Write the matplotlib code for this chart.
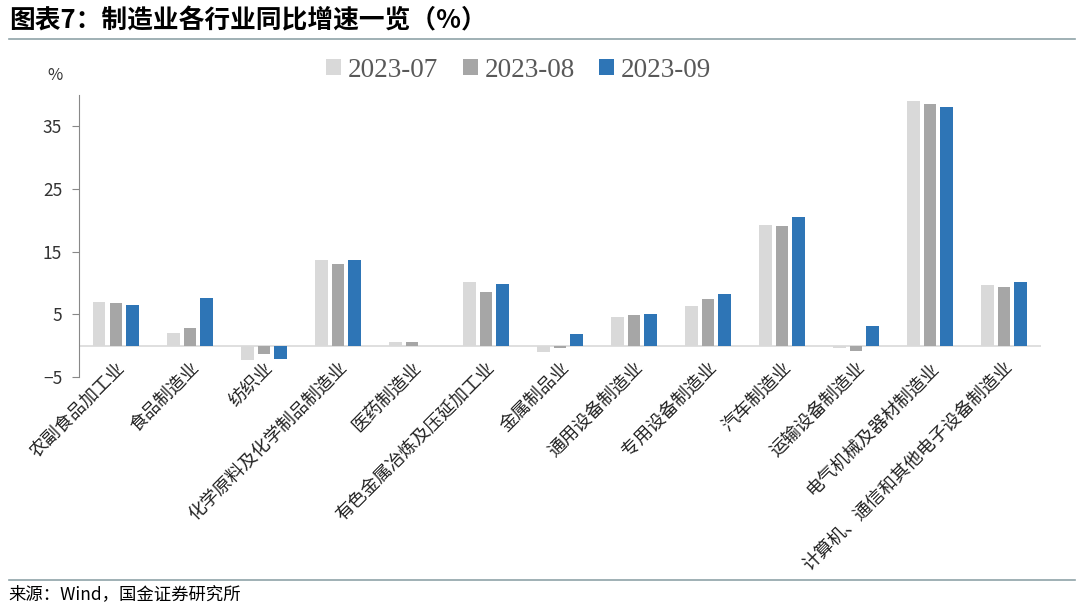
import matplotlib
matplotlib.use("Agg")
import matplotlib.pyplot as plt
import numpy as np

plt.rcParams['font.family'] = ['Noto Sans CJK SC', 'DejaVu Sans']

categories = ["农副食品加工业", "食品制造业", "纺织业", "化学原料及化学制品制造业",
              "医药制造业", "有色金属冶炼及压延加工业", "金属制品业", "通用设备制造业",
              "专用设备制造业", "汽车制造业", "运输设备制造业", "电气机械及器材制造业",
              "计算机、通信和其他电子设备制造业"]
jul = [7.0, 2.0, -2.3, 13.6, 0.6, 10.1, -1.0, 4.6, 6.4, 19.3, -0.4, 39.1, 9.7]
aug = [6.8, 2.9, -1.3, 13.1, 0.6, 8.5, -0.4, 4.9, 7.5, 19.1, -0.8, 38.6, 9.4]
sep = [6.5, 7.6, -2.2, 13.6, 0.0, 9.8, 1.8, 5.1, 8.3, 20.5, 3.1, 38.1, 10.1]
series = [("2023-07", jul, "#D9D9D9"), ("2023-08", aug, "#A6A6A6"), ("2023-09", sep, "#2E75B6")]

fig = plt.figure(figsize=(10.8, 6.1), dpi=100)
ax = fig.add_axes([0.073, 0.382, 0.891, 0.462])

x = np.arange(len(categories))
w = 0.17
step = 0.225
for i, (name, vals, c) in enumerate(series):
    ax.bar(x + (i - 1) * step, vals, width=w, color=c, label=name, zorder=2)

ax.axhline(0, color="#D9D9D9", lw=1.2, zorder=1)
ax.set_xlim(-0.5, len(categories) - 0.5)
ax.set_ylim(-5, 40)
ax.set_yticks([-5, 5, 15, 25, 35])
ax.tick_params(axis='y', labelsize=12.5, length=5, pad=7, color="#888888", labelcolor="#333333")
ax.tick_params(axis='x', length=0, pad=-13)
ax.set_xticks(x)
ax.set_xticklabels(categories, rotation=45, ha='right', va='top', rotation_mode='anchor',
                   fontsize=13, color="#222222")
for s in ["top", "right", "bottom"]:
    ax.spines[s].set_visible(False)
ax.spines["left"].set_color("#888888")
ax.text(-0.025, 1.055, "%", transform=ax.transAxes, fontsize=12, ha='center', color="#333333")

leg = ax.legend(loc='center', bbox_to_anchor=(0.457, 1.089), ncol=3, frameon=False,
                prop={'family': 'Liberation Serif', 'size': 19.5}, handlelength=0.55,
                handleheight=0.55, handletextpad=0.25, columnspacing=0.9)
for t in leg.get_texts():
    t.set_color("#595959")

fig.text(0.008, 0.965, "图表7：制造业各行业同比增速一览（%）", fontsize=18.5, fontweight='bold',
         style='italic', ha='left', va='center')
fig.add_artist(plt.Line2D([0.008, 0.995], [0.936, 0.936], color="#8FA3A8", lw=1.2))
fig.add_artist(plt.Line2D([0.008, 0.995], [0.05, 0.05], color="#8FA3A8", lw=1.2))
fig.text(0.008, 0.026, "来源：Wind，国金证券研究所", fontsize=12.5, ha='left', va='center')

fig.savefig("out.png", dpi=100)
